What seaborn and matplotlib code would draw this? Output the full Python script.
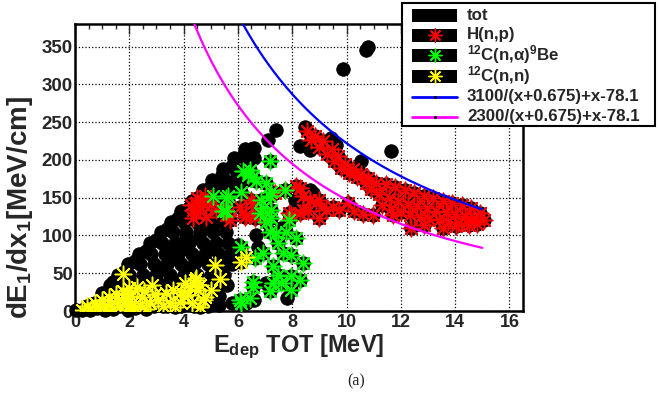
import numpy as np
import pandas as pd
import matplotlib
matplotlib.use("Agg")
import matplotlib.pyplot as plt
from matplotlib.lines import Line2D
from matplotlib.patches import Rectangle
from matplotlib.ticker import MultipleLocator
import seaborn as sns

sns.set_style("white")
plt.rcParams["font.family"] = ["Liberation Sans", "DejaVu Sans"]
plt.rcParams["font.weight"] = "bold"
plt.rcParams["mathtext.default"] = "regular"

# H(n,p) events (red)
hnp = [
    (4.35, 123), (4.6, 138), (4.78, 152), (4.47, 130), (4.84, 125), (5.21, 134),
    (4.72, 143), (4.29, 141), (4.35, 134), (4.6, 147), (5.58, 127), (5.7, 121),
    (5.0, 140), (4.5, 150),
    (5.51, 134), (6.07, 138), (6.25, 125), (6.31, 127), (6.5, 147), (6.56, 143),
    (6.62, 123), (6.92, 127), (7.35, 156), (7.72, 160), (8.15, 165), (8.39, 152),
    (7.9, 130), (7.97, 127), (8.27, 130), (8.39, 134), (8.58, 132), (8.64, 147),
    (8.3, 163), (8.88, 143), (9.0, 123), (9.0, 147), (9.25, 134), (9.5, 138),
    (9.74, 134), (10.05, 143), (10.29, 132), (10.6, 128), (10.97, 127),
    (8.55, 238), (8.85, 232), (9.15, 225), (9.45, 215), (9.7, 205), (9.95, 195),
    (10.25, 188), (10.55, 182), (10.8, 176), (11.1, 170), (11.45, 168), (11.8, 164),
    (12.15, 160), (12.5, 156), (12.85, 152), (13.2, 149), (13.55, 146), (13.9, 143),
    (14.25, 140), (14.6, 136), (14.9, 130),
    (8.7, 226), (9.0, 217), (9.3, 208), (9.55, 198), (9.8, 190), (10.1, 183),
    (10.4, 178), (10.7, 170), (10.9, 162), (11.2, 155), (11.55, 150), (11.9, 146),
    (12.25, 142), (12.6, 139), (12.95, 136), (13.3, 133), (13.65, 131), (14.0, 128),
    (14.35, 126), (14.7, 123), (15.05, 121),
    (11.3, 140), (11.65, 135), (12.0, 131), (12.35, 127), (12.7, 124), (13.05, 122),
    (13.4, 120), (13.75, 118), (14.1, 117), (14.45, 116), (14.8, 115),
    (12.38, 110), (12.87, 114), (13.54, 110), (14.03, 112), (14.52, 114), (11.7, 127),
]

# 12C(n,alpha)9Be events (green)
calpha = [
    (7.17, 198), (6.43, 187), (6.37, 180), (6.56, 178), (6.19, 185), (5.64, 152),
    (5.58, 132), (5.09, 152), (5.58, 149), (5.45, 132), (6.13, 158), (6.68, 172),
    (7.05, 169), (7.23, 158), (7.72, 160), (6.86, 147), (7.17, 152), (6.92, 136),
    (7.23, 134), (6.8, 130), (7.05, 118), (7.23, 123), (7.9, 121), (8.15, 97),
    (7.17, 105), (7.41, 103), (7.78, 105), (7.47, 90), (6.13, 85), (6.92, 77),
    (6.62, 70), (7.66, 77), (7.97, 74), (8.39, 63), (7.29, 59), (7.47, 48),
    (7.29, 37), (6.56, 39), (7.97, 46), (8.27, 41), (7.6, 37), (7.17, 26),
    (7.97, 28), (6.43, 17), (6.13, 10), (6.56, 32), (6.07, 15),
]

# 12C(n,n) events (yellow)
cnn = [
    (0.25, 2), (0.45, 6), (0.55, 2), (0.75, 10), (0.8, 4), (1.0, 14), (1.05, 6),
    (1.1, 1), (1.25, 18), (1.3, 9), (1.4, 3), (1.5, 22), (1.55, 13), (1.65, 6),
    (1.75, 26), (1.8, 17), (1.85, 9), (1.95, 2), (2.0, 30), (2.05, 20), (2.1, 11),
    (2.27, 32), (2.82, 34), (2.45, 19), (2.76, 10), (2.2, 4), (3.06, 15), (3.37, 24),
    (3.49, 10), (3.6, 28), (4.04, 37), (4.16, 21), (4.41, 41), (4.52, 28), (3.86, 12),
    (3.24, 6), (2.39, 8), (4.72, 15), (5.02, 28), (4.78, 19), (4.23, 32), (4.47, 44),
    (2.55, 27), (2.95, 22), (2.6, 3), (3.7, 5), (4.0, 20), (4.3, 10), (4.6, 5),
    (3.9, 25), (4.6, 35),
    (1.78, 49), (5.15, 61), (5.33, 42), (6.13, 65), (6.31, 72),
]

# remaining events of the total sample (black only)
other = [
    (0.05, 1),
    (2.4, 6), (2.9, 6), (3.4, 6), (3.9, 6), (4.4, 6), (4.9, 6), (5.3, 8),
    (2.3, 20), (2.8, 20), (3.3, 20), (3.8, 20), (4.3, 20), (4.8, 20), (5.3, 20),
    (1.3, 34), (1.75, 34), (2.2, 34), (2.7, 34), (3.2, 34), (3.7, 34), (4.2, 34),
    (4.7, 34), (5.2, 34), (5.6, 34),
    (1.6, 48), (2.0, 48), (2.5, 48), (3.0, 48), (3.5, 48), (4.0, 48), (4.5, 48),
    (5.0, 48), (5.5, 48),
    (1.95, 62), (2.4, 62), (2.9, 62), (3.4, 62), (3.9, 62), (4.4, 62), (4.9, 62),
    (5.4, 62), (5.8, 62),
    (2.35, 76), (2.8, 76), (3.3, 76), (3.8, 76), (4.3, 76), (4.8, 76), (5.3, 76),
    (5.75, 76),
    (2.75, 90), (3.2, 90), (3.7, 90), (4.2, 90), (4.7, 90), (5.2, 90), (5.65, 90),
    (3.15, 104), (3.6, 104), (4.1, 104), (4.6, 104), (5.1, 104), (5.55, 104),
    (3.55, 118), (4.0, 118), (4.5, 118), (5.0, 118), (5.45, 118),
    (3.9, 132), (4.35, 132), (4.8, 132), (5.25, 132),
    (4.3, 146), (4.75, 146), (5.2, 146), (5.65, 146),
    (4.7, 160), (5.15, 160), (5.6, 160), (6.0, 160),
    (5.05, 174), (5.5, 174), (5.9, 174), (6.3, 174),
    (5.45, 188), (5.9, 188), (6.3, 188),
    (5.85, 202), (6.25, 202), (6.6, 202),
    (6.25, 214), (6.6, 216),
    (0.6, 9), (1.0, 24), (1.4, 38), (1.8, 52), (2.2, 66), (2.6, 80), (3.0, 94),
    (3.4, 109), (3.8, 123), (4.2, 137), (4.6, 151), (5.0, 166), (5.4, 180),
    (5.8, 192), (6.2, 205), (6.5, 215),
    (2.55, 41), (3.05, 55), (3.55, 69), (4.05, 83), (4.55, 97), (5.05, 111),
    (3.1, 27), (3.6, 41), (4.1, 55), (4.6, 69), (5.1, 83), (3.6, 83), (4.1, 97),
    (4.6, 111), (4.1, 125), (4.6, 125), (5.1, 125), (5.4, 153), (4.95, 153),
    (6.68, 101), (6.74, 85), (7.05, 37), (7.8, 17), (5.85, 72), (6.0, 88),
    (7.6, 110), (8.09, 147), (8.27, 156), (8.64, 160), (5.8, 10), (6.3, 10),
    (6.6, 14), (7.41, 240), (7.1, 226), (8.46, 244), (8.27, 218), (8.64, 213),
    (9.44, 229), (9.62, 220), (10.54, 198), (8.76, 156), (9.86, 320),
    (10.72, 346), (10.8, 349), (11.64, 212),
]

# fit curves shown in the legend: A/(x+0.675)+x-78.1
fit_amps = [3100, 2300]
fit_colors = ["blue", "magenta"]
fit_shift = 0.675
fit_offset = 78.1
fit_x = np.linspace(0.3, 15, 400)

df_hnp = pd.DataFrame(hnp, columns=["E", "dEdx"])
df_calpha = pd.DataFrame(calpha, columns=["E", "dEdx"])
df_cnn = pd.DataFrame(cnn, columns=["E", "dEdx"])
df_tot = pd.concat([pd.DataFrame(other, columns=["E", "dEdx"]), df_hnp, df_calpha, df_cnn])

fig = plt.figure(figsize=(6.59, 4.01), dpi=100)
ax = fig.add_axes([0.1138, 0.2244, 0.6798, 0.7157])

star = (8, 2, 0)
sns.scatterplot(data=df_tot, x="E", y="dEdx", marker="o", s=95, color="black",
                edgecolor="black", linewidth=0.6, ax=ax, zorder=3, clip_on=False)
sns.scatterplot(data=df_hnp, x="E", y="dEdx", marker=star, s=140, color="red",
                linewidth=1.1, ax=ax, zorder=4)
sns.scatterplot(data=df_calpha, x="E", y="dEdx", marker=star, s=140, color="#00ff00",
                linewidth=1.1, ax=ax, zorder=4)
sns.scatterplot(data=df_cnn, x="E", y="dEdx", marker=star, s=140, color="yellow",
                linewidth=1.1, ax=ax, zorder=4)

for amp, col in zip(fit_amps, fit_colors):
    sns.lineplot(x=fit_x, y=amp / (fit_x + fit_shift) + fit_x - fit_offset,
                 color=col, linewidth=1.6, ax=ax, zorder=5)

ax.set_xlim(0, 16.5)
ax.set_ylim(0, 380)
ax.xaxis.set_major_locator(MultipleLocator(2))
ax.xaxis.set_minor_locator(MultipleLocator(0.5))
ax.yaxis.set_major_locator(MultipleLocator(50))
ax.yaxis.set_minor_locator(MultipleLocator(10))
ax.tick_params(which="both", direction="in", top=True, right=False, width=1,
               labelsize=13.5)
ax.tick_params(which="major", length=7)
ax.tick_params(which="minor", length=3.5)
ax.tick_params(axis="y", pad=1.5)
ax.tick_params(axis="x", pad=2.5, labelsize=13)
ax.grid(True, which="major", linestyle=":", color="black", linewidth=0.9)
for sp in ax.spines.values():
    sp.set_linewidth(1.8)
    sp.set_color("black")

ax.set_xlabel(r"E$_{dep}$ TOT [MeV]", fontsize=17, fontweight="bold", va="baseline")
ax.xaxis.set_label_coords(0.5, -0.143)
ax.set_ylabel(r"dE$_{1}$/dx$_{1}$[MeV/cm]", fontsize=20, fontweight="bold")
ax.yaxis.set_label_coords(-0.09, 0.36)

fig.text(356 / 659, 1 - 381 / 401, "(a)", family="Liberation Serif",
         fontweight="normal", fontsize=11.5, ha="center", va="center")

# legend box (ROOT style, drawn on the figure)
W, H = 659, 401
fig.add_artist(Rectangle((402 / W, 1 - 126 / H), 253 / W, 123 / H,
                         transform=fig.transFigure, facecolor="white",
                         edgecolor="black", linewidth=1.5, zorder=10))
entries = [
    ("tot", "box", None),
    ("H(n,p)", "box", "red"),
    (r"$^{12}$C(n,$\alpha$)$^{9}$Be", "box", "#00ff00"),
    (r"$^{12}$C(n,n)", "box", "yellow"),
    ("3100/(x+0.675)+x-78.1", "line", "blue"),
    ("2300/(x+0.675)+x-78.1", "line", "magenta"),
]
row_y = [15, 35, 55, 76, 97, 117]
for (label, kind, col), yc in zip(entries, row_y):
    fy = 1 - yc / H
    if kind == "box":
        fig.add_artist(Rectangle((412 / W, 1 - (yc + 6.5) / H), 45 / W, 13 / H,
                                 transform=fig.transFigure, facecolor="black",
                                 edgecolor="none", zorder=11))
        if col is not None:
            fig.add_artist(Line2D([434.5 / W], [fy], marker=star, markersize=10,
                                  color=col, mew=1.0, transform=fig.transFigure,
                                  zorder=12))
    else:
        fig.add_artist(Line2D([412 / W, 457 / W], [fy, fy], color=col, lw=2,
                              transform=fig.transFigure, zorder=11))
        fig.add_artist(Line2D([434.5 / W], [fy], marker="o", markersize=1.2,
                              color="black", transform=fig.transFigure, zorder=12))
    fig.text(467 / W, fy, label, fontsize=12.2, fontweight="bold", ha="left",
             va="center", zorder=12)

fig.savefig("out.png", dpi=100)
